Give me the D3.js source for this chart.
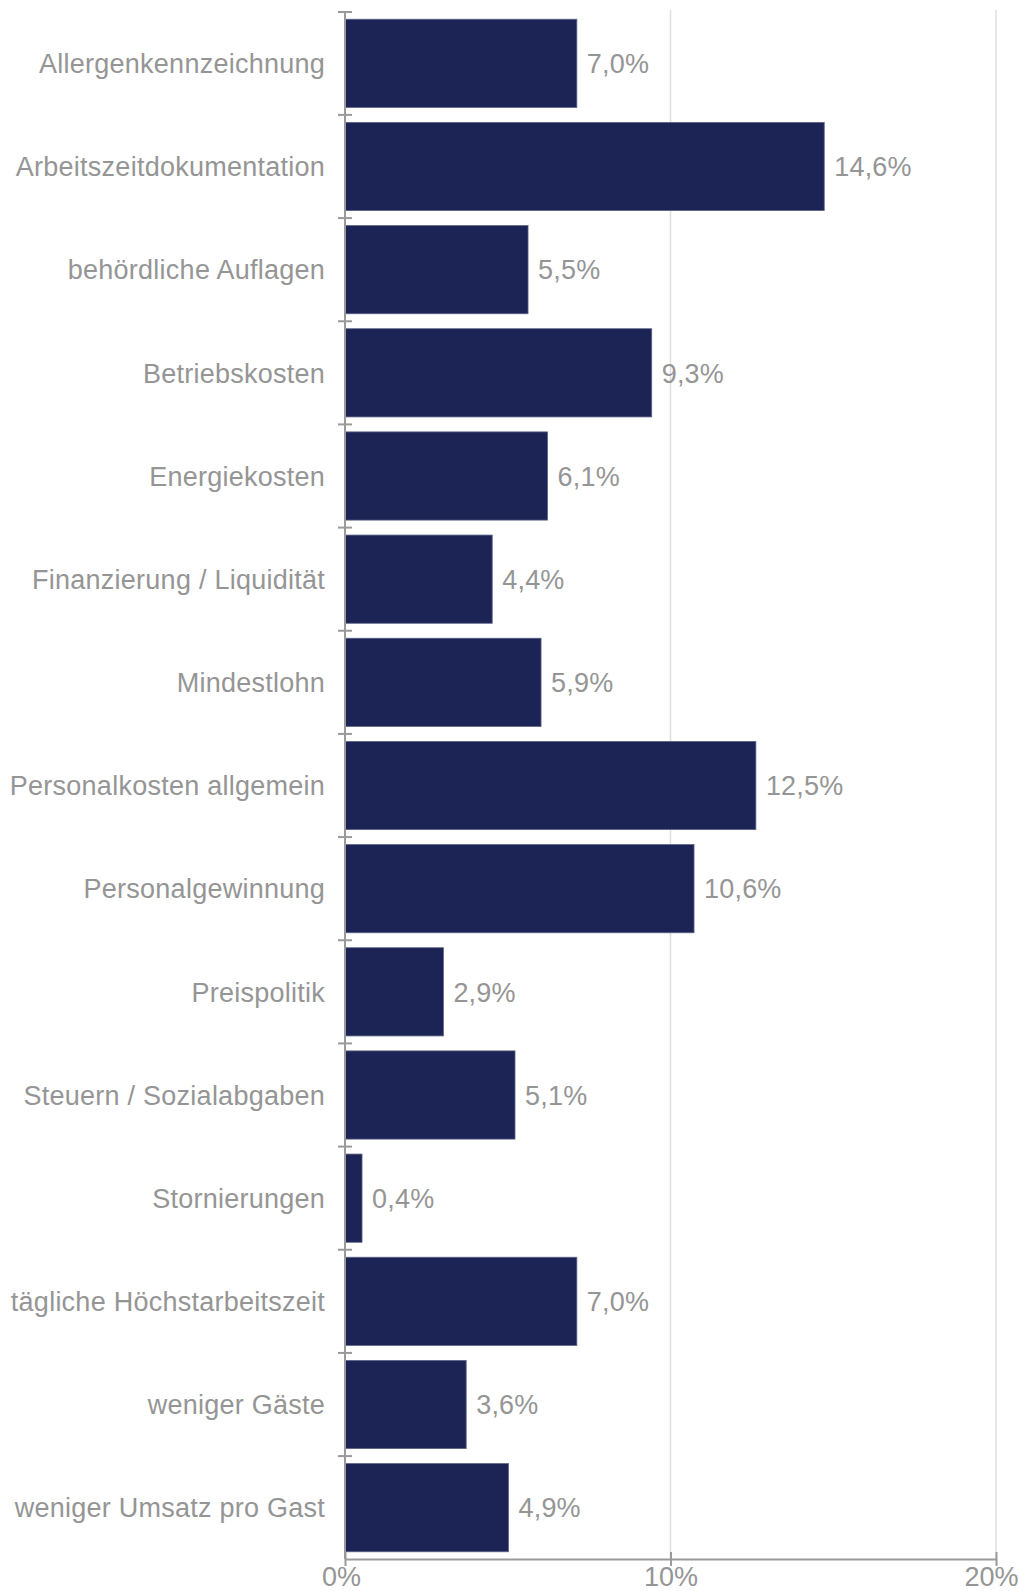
<!DOCTYPE html>
<html>
<head>
<meta charset="utf-8">
<script src="https://cdn.jsdelivr.net/npm/d3@7"></script>
<style>
  html, body { margin: 0; padding: 0; background: #fff; }
  svg { display: block; }
  text { font-family: "Liberation Sans", Arial, sans-serif; }
</style>
</head>
<body>
<div id="chart"></div>
<script>
// Belastungsfaktoren – Anteil der Nennungen in Prozent
const categories = [
  "Allergenkennzeichnung",
  "Arbeitszeitdokumentation",
  "behördliche Auflagen",
  "Betriebskosten",
  "Energiekosten",
  "Finanzierung / Liquidität",
  "Mindestlohn",
  "Personalkosten allgemein",
  "Personalgewinnung",
  "Preispolitik",
  "Steuern / Sozialabgaben",
  "Stornierungen",
  "tägliche Höchstarbeitszeit",
  "weniger Gäste",
  "weniger Umsatz pro Gast"
];
const values = [7.0, 14.6, 5.5, 9.3, 6.1, 4.4, 5.9, 12.5, 10.6, 2.9, 5.1, 0.4, 7.0, 3.6, 4.9];
const xTicks = [0, 10, 20];

const width = 1019, height = 1591;
const margin = { top: 12, right: 23, bottom: 32, left: 345 };

const de = d3.formatLocale({ decimal: ",", thousands: ".", grouping: [3], currency: ["", " €"] });
const fmtValue = de.format(".1f");

const svg = d3.select("#chart").append("svg")
  .attr("width", width)
  .attr("height", height);

const x = d3.scaleLinear().domain([0, 20]).range([margin.left, width - margin.right]);
const y = d3.scaleBand().domain(categories)
  .range([margin.top, height - margin.bottom])
  .paddingInner(0.145).paddingOuter(0.07);

const plotTop = margin.top, plotBottom = height - margin.bottom;
const textColor = "#959595";
const axisColor = "#9a9a9a";

// vertical grid lines
svg.append("g").selectAll("line")
  .data(xTicks.filter(d => d > 0))
  .join("line")
  .attr("x1", d => x(d)).attr("x2", d => x(d))
  .attr("y1", plotTop - 2).attr("y2", plotBottom)
  .attr("stroke", "#dedede").attr("stroke-width", 1.5);

// bars
const data = categories.map((c, i) => ({ c, v: values[i] }));
svg.append("g").selectAll("rect")
  .data(data)
  .join("rect")
  .attr("x", x(0))
  .attr("y", d => y(d.c))
  .attr("width", d => x(d.v) - x(0) + 4)
  .attr("height", y.bandwidth())
  .attr("fill", "#1b2455")
  .attr("stroke", "#5d6489")
  .attr("stroke-width", 0.8);

// value labels
svg.append("g").selectAll("text")
  .data(data)
  .join("text")
  .attr("x", d => x(d.v) + 14)
  .attr("y", d => y(d.c) + y.bandwidth() / 2)
  .attr("dy", "0.36em")
  .attr("font-size", 27)
  .attr("letter-spacing", 0.2)
  .attr("fill", textColor)
  .text(d => fmtValue(d.v) + "%");

// category axis (left)
const yAxisG = svg.append("g");
yAxisG.append("line")
  .attr("x1", x(0)).attr("x2", x(0))
  .attr("y1", plotTop).attr("y2", plotBottom)
  .attr("stroke", axisColor).attr("stroke-width", 2);
const boundaries = categories.map(c => y(c) - y.step() * y.paddingInner() / 2);
boundaries[0] = plotTop;
boundaries.push(plotBottom);
yAxisG.selectAll("line.tick")
  .data(boundaries.slice(0, -1))
  .join("line")
  .attr("class", "tick")
  .attr("x1", x(0) - 7).attr("x2", x(0) + 7)
  .attr("y1", d => d).attr("y2", d => d)
  .attr("stroke", axisColor).attr("stroke-width", 2);
yAxisG.selectAll("text")
  .data(categories)
  .join("text")
  .attr("x", x(0) - 20)
  .attr("y", d => y(d) + y.bandwidth() / 2)
  .attr("dy", "0.36em")
  .attr("text-anchor", "end")
  .attr("font-size", 27)
  .attr("letter-spacing", 0.25)
  .attr("fill", textColor)
  .text(d => d);

// value axis (bottom)
const xAxis = d3.axisBottom(x)
  .tickValues(xTicks)
  .tickFormat(d => d + "%")
  .tickSizeInner(7)
  .tickSizeOuter(0)
  .tickPadding(1);
const xAxisG = svg.append("g")
  .attr("transform", `translate(0,${plotBottom})`)
  .call(xAxis);
xAxisG.select(".domain").attr("stroke", axisColor).attr("stroke-width", 2);
xAxisG.selectAll(".tick line")
  .attr("y1", -7).attr("y2", 7)
  .attr("stroke", axisColor).attr("stroke-width", 2);
xAxisG.selectAll(".tick text")
  .attr("font-size", 27)
  .attr("font-family", "'Liberation Sans', Arial, sans-serif")
  .attr("fill", textColor)
  .attr("dx", (d, i) => i === 0 ? -4 : (d === 20 ? -5 : 0));
</script>
</body>
</html>
